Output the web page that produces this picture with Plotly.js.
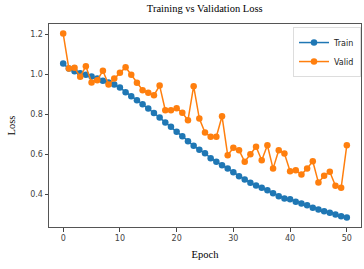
<!DOCTYPE html>
<html>
<head>
<meta charset="utf-8">
<script src="https://cdn.plot.ly/plotly-3.0.1.min.js"></script>
<style>html,body{margin:0;padding:0;background:#fff;}#chart{width:364px;height:269px;}</style>
</head>
<body>
<div id="chart"></div>
<script>
const epochs = Array.from({length: 51}, (_, i) => i);
const trainLoss = [1.053,1.028,1.015,1.005,0.997,0.988,0.978,0.967,0.958,0.948,0.933,
  0.91,0.89,0.87,0.85,0.828,0.806,0.783,0.758,0.737,0.712,
  0.69,0.665,0.642,0.622,0.605,0.58,0.562,0.545,0.528,0.51,
  0.49,0.473,0.457,0.443,0.432,0.42,0.405,0.39,0.378,0.375,
  0.362,0.353,0.345,0.332,0.323,0.315,0.307,0.298,0.29,0.283];
const validLoss = [1.203,1.028,1.032,0.987,1.04,0.958,0.97,1.017,0.948,0.978,1.007,
  1.035,0.997,0.957,0.92,0.907,0.895,0.943,0.82,0.82,0.83,
  0.807,0.77,0.94,0.778,0.708,0.687,0.687,0.79,0.595,0.632,
  0.62,0.562,0.6,0.637,0.57,0.645,0.528,0.62,0.603,0.515,
  0.52,0.498,0.528,0.565,0.458,0.492,0.512,0.442,0.432,0.645];
const xTickVals = [0,10,20,30,40,50];
const yTickVals = [0.4,0.6,0.8,1.0,1.2];
const yTickText = ["0.4","0.6","0.8","1.0","1.2"];

const traces = [
  {x: epochs, y: trainLoss, name: 'Train', mode: 'lines+markers',
   line: {color: '#1f77b4', width: 1.5}, marker: {color: '#1f77b4', size: 6.5}},
  {x: epochs, y: validLoss, name: 'Valid', mode: 'lines+markers',
   line: {color: '#ff7f0e', width: 1.5}, marker: {color: '#ff7f0e', size: 6.5}}
];
const tickFont = {family: 'DejaVu Sans', size: 8, color: '#444'};
const layout = {
  width: 364, height: 269,
  margin: {l: 49, r: 3, t: 24, b: 42},
  paper_bgcolor: '#fff', plot_bgcolor: '#fff',
  title: {text: 'Training vs Validation Loss', font: {family: 'Liberation Serif', size: 10.5, color: '#000', weight: 'normal'},
          x: 0.5625, xanchor: 'center', y: 0.968, yanchor: 'middle'},
  showlegend: true,
  legend: {x: 1.0, xanchor: 'right', y: 0.985, yanchor: 'top',
           bgcolor: 'rgba(255,255,255,0.8)', bordercolor: '#ddd', borderwidth: 1,
           font: {family: 'DejaVu Sans', size: 8, color: '#222'}, tracegroupgap: 0, itemwidth: 30},
  xaxis: {range: [-2.5, 52.5], tickvals: xTickVals, ticks: 'outside', ticklen: 3.5, tickcolor: '#444',
          showgrid: false, zeroline: false, showline: true, linecolor: '#555', linewidth: 1, mirror: true,
          tickfont: tickFont,
          title: {text: 'Epoch', font: {family: 'Liberation Serif', size: 10.5, color: '#000'}, standoff: 8}},
  yaxis: {range: [0.236, 1.251], tickvals: yTickVals, ticktext: yTickText, ticks: 'outside', ticklen: 3.5, tickcolor: '#444',
          showgrid: false, zeroline: false, showline: true, linecolor: '#555', linewidth: 1, mirror: true,
          tickfont: tickFont,
          title: {text: 'Loss', font: {family: 'Liberation Serif', size: 10.5, color: '#000'}, standoff: 12}}
};
Plotly.newPlot('chart', traces, layout, {displayModeBar: false, staticPlot: true});
</script>
</body>
</html>
